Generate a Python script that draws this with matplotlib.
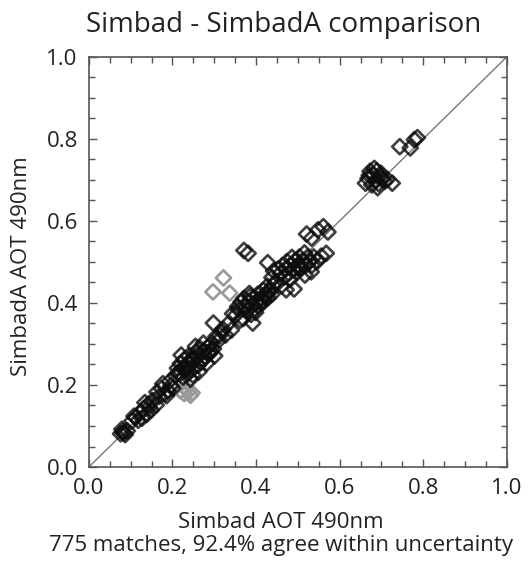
import matplotlib
matplotlib.use("Agg")
import matplotlib.pyplot as plt
from matplotlib.ticker import MultipleLocator

plt.rcParams['font.family'] = ['Open Sans', 'DejaVu Sans']

title = "Simbad - SimbadA comparison"
xlabel = "Simbad AOT 490nm\n775 matches, 92.4% agree within uncertainty"
ylabel = "SimbadA AOT 490nm"
tick_values = [0.0, 0.2, 0.4, 0.6, 0.8, 1.0]
tick_labels = ["0.0", "0.2", "0.4", "0.6", "0.8", "1.0"]

# dark diamonds (Simbad AOT, SimbadA AOT)
simbad_x = [0.076, 0.081, 0.087, 0.079, 0.092, 0.084,
            0.103, 0.112, 0.118, 0.124, 0.131, 0.138, 0.142, 0.149, 0.153, 0.161,
            0.127, 0.108, 0.145, 0.134,
            0.168, 0.174, 0.181, 0.177, 0.189, 0.193, 0.201, 0.196, 0.163, 0.186,
            0.207, 0.214, 0.219, 0.226, 0.231, 0.228, 0.237, 0.242, 0.239, 0.247,
            0.252, 0.256, 0.261, 0.258, 0.266, 0.271, 0.276, 0.279, 0.284, 0.288,
            0.293, 0.298, 0.221, 0.212, 0.243, 0.263, 0.274, 0.282, 0.301, 0.234,
            0.249, 0.268, 0.217, 0.291, 0.224, 0.255, 0.286, 0.244,
            0.304, 0.311, 0.318, 0.327, 0.298, 0.321, 0.341, 0.332, 0.313,
            0.352, 0.358, 0.364, 0.369, 0.373, 0.371, 0.378, 0.382, 0.384, 0.388,
            0.391, 0.393, 0.397, 0.402, 0.404, 0.408, 0.413, 0.417, 0.419, 0.423,
            0.427, 0.429, 0.433, 0.438, 0.441, 0.362, 0.392, 0.344, 0.376, 0.399,
            0.411, 0.386, 0.422, 0.356, 0.431,
            0.371, 0.381,
            0.428, 0.438, 0.447, 0.452, 0.458, 0.463, 0.467, 0.471, 0.474, 0.478,
            0.483, 0.486, 0.489, 0.493, 0.497, 0.501, 0.504, 0.508, 0.512, 0.516,
            0.519, 0.523, 0.528, 0.532, 0.538, 0.547, 0.568, 0.472, 0.491, 0.461,
            0.442, 0.481, 0.502, 0.517, 0.534, 0.556,
            0.521, 0.548, 0.561, 0.572, 0.533,
            0.662, 0.668, 0.673, 0.677, 0.681, 0.686, 0.689, 0.693, 0.697, 0.702,
            0.708, 0.714, 0.683, 0.691, 0.726, 0.671, 0.699,
            0.744, 0.769, 0.779, 0.786]
simbada_y = [0.081, 0.086, 0.079, 0.092, 0.088, 0.083,
             0.112, 0.121, 0.114, 0.133, 0.142, 0.128, 0.153, 0.139, 0.162, 0.151,
             0.119, 0.124, 0.146, 0.157,
             0.172, 0.191, 0.178, 0.203, 0.186, 0.209, 0.192, 0.198, 0.183, 0.174,
             0.222, 0.231, 0.252, 0.219, 0.243, 0.262, 0.228, 0.251, 0.271, 0.238,
             0.262, 0.281, 0.248, 0.272, 0.289, 0.263, 0.283, 0.268, 0.292, 0.276,
             0.301, 0.288, 0.273, 0.241, 0.214, 0.232, 0.302, 0.253, 0.271, 0.236,
             0.224, 0.256, 0.228, 0.284, 0.241, 0.294, 0.279, 0.262,
             0.318, 0.309, 0.331, 0.322, 0.351, 0.336, 0.334, 0.348, 0.321,
             0.371, 0.384, 0.402, 0.362, 0.392, 0.411, 0.381, 0.403, 0.423, 0.372,
             0.394, 0.412, 0.386, 0.402, 0.421, 0.393, 0.412, 0.431, 0.404, 0.422,
             0.441, 0.413, 0.432, 0.421, 0.443, 0.358, 0.351, 0.374, 0.389, 0.377,
             0.401, 0.416, 0.414, 0.391, 0.426,
             0.528, 0.521,
             0.498, 0.462, 0.451, 0.482, 0.472, 0.491, 0.463, 0.483, 0.501, 0.472,
             0.492, 0.511, 0.481, 0.502, 0.474, 0.493, 0.512, 0.484, 0.503, 0.522,
             0.492, 0.511, 0.501, 0.476, 0.512, 0.502, 0.521, 0.432, 0.434, 0.442,
             0.478, 0.457, 0.486, 0.468, 0.492, 0.514,
             0.568, 0.578, 0.586, 0.573, 0.558,
             0.692, 0.703, 0.721, 0.688, 0.712, 0.698, 0.722, 0.691, 0.708, 0.702,
             0.697, 0.701, 0.728, 0.681, 0.692, 0.711, 0.716,
             0.781, 0.778, 0.798, 0.803]

# lighter grey diamonds
grey_x = [0.219, 0.228, 0.238, 0.247, 0.233, 0.243, 0.322, 0.297, 0.337]
grey_y = [0.186, 0.179, 0.184, 0.181, 0.191, 0.175, 0.461, 0.427, 0.424]

fig = plt.figure(figsize=(5.29, 5.63), dpi=100)
ax = fig.add_axes([0.168, 0.1705, 0.79, 0.7285])

ax.plot([0, 1], [0, 1], color='#777777', lw=1.0, zorder=1)
ax.scatter(grey_x, grey_y, marker='D', s=60, facecolors='none',
           edgecolors='#999999', linewidths=1.9, zorder=2)
ax.scatter(simbad_x, simbada_y, marker='D', s=60, facecolors='none',
           edgecolors=(0.05, 0.05, 0.05, 0.8), linewidths=1.9, zorder=3)

ax.set_xlim(0, 1)
ax.set_ylim(0, 1)
ax.set_xticks(tick_values)
ax.set_xticklabels(tick_labels)
ax.set_yticks(tick_values)
ax.set_yticklabels(tick_labels)
ax.xaxis.set_minor_locator(MultipleLocator(0.05))
ax.yaxis.set_minor_locator(MultipleLocator(0.05))
ax.tick_params(which='both', direction='in', top=True, right=True,
               color='#555555', labelsize=16, labelcolor='#222222', pad=8)
ax.tick_params(which='major', length=6, width=1)
ax.tick_params(which='minor', length=4, width=1)
for sp in ax.spines.values():
    sp.set_color('#555555')
    sp.set_linewidth(1.2)

ax.set_title(title, fontsize=20, color='#222222', pad=18, x=0.465)
ax.set_xlabel(xlabel, fontsize=16, color='#222222', labelpad=9, linespacing=1.15)
ax.xaxis.label.set_x(0.46)
ax.set_ylabel(ylabel, fontsize=16, color='#222222', labelpad=10)
ax.yaxis.label.set_y(0.49)

fig.savefig("out.png", dpi=100)
